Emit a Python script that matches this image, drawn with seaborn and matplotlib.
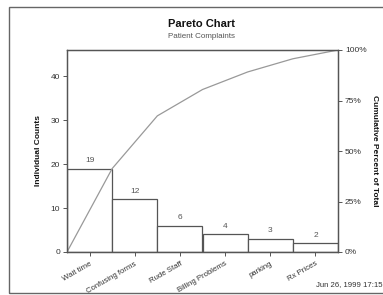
import matplotlib
matplotlib.use("Agg")
import matplotlib.pyplot as plt
import matplotlib.patches as mpatches
import numpy as np
import pandas as pd
import seaborn as sns

# === Data ===
categories = ["Wait time", "Confusing forms", "Rude Staff", "Billing Problems", "parking", "Rx Prices"]
counts = [19, 12, 6, 4, 3, 2]
pct_ticks = [0, 25, 50, 75, 100]
pct_labels = ["0%", "25%", "50%", "75%", "100%"]

# === Style ===
sns.set_theme(style="white")
plt.rcParams["font.family"] = ["Liberation Sans", "DejaVu Sans"]
EDGE = "#555555"
LINE = "#999999"
TXT = "#333333"

df = pd.DataFrame({"category": categories, "count": counts})
total = sum(counts)
cum = np.concatenate([[0], np.cumsum(counts)])
cum_df = pd.DataFrame({"edge": np.arange(len(cum)) - 0.5, "cum": cum})

fig = plt.figure(figsize=(3.83, 2.95), dpi=100)
ax = fig.add_axes([67 / 383, 1 - 252 / 295, (338 - 67) / 383, (252 - 50) / 295])

sns.barplot(data=df, x="category", y="count", width=1.0, color="white",
            edgecolor=EDGE, linewidth=0.9, ax=ax)
for i, v in enumerate(counts):
    ax.text(i, v + 1.0, str(v), ha="center", va="bottom", fontsize=6.0, color="#555555")

sns.lineplot(data=cum_df, x="edge", y="cum", color=LINE, linewidth=0.9, ax=ax)

ax.set_xlim(-0.5, len(categories) - 0.5)
ax.set_ylim(0, total)
ax.set_yticks([0, 10, 20, 30, 40])
ax.set_xlabel("")
ax.set_ylabel("Individual Counts", fontsize=6.0, fontweight="bold", color="#111111", labelpad=6)
ax.set_xticks(range(len(categories)))
ax.set_xticklabels(categories, rotation=30, ha="right", rotation_mode="anchor",
                   fontsize=5.6, color=TXT)
ax.tick_params(axis="both", which="both", direction="out", length=3, width=0.7,
               colors=EDGE, labelsize=6.0, labelcolor=TXT, pad=2, bottom=True, left=True)
ax.tick_params(axis="x", labelsize=5.6, pad=3)
for s in ax.spines.values():
    s.set_color(EDGE)
    s.set_linewidth(0.9)

ax2 = ax.twinx()
ax2.set_ylim(0, 100)
ax2.set_yticks(pct_ticks)
ax2.set_yticklabels(pct_labels)
ax2.tick_params(axis="y", direction="out", length=3, width=0.7, colors=EDGE,
                labelsize=6.0, labelcolor=TXT, pad=2, right=True)
ax2.set_ylabel("Cumulative Percent of Total", fontsize=6.0, fontweight="bold",
               color="#111111", rotation=-90, labelpad=8)
for s in ax2.spines.values():
    s.set_color(EDGE)
    s.set_linewidth(0.9)

# titles and footer
fig.text(202 / 383, 1 - 24 / 295, "Pareto Chart", ha="center", va="center",
         fontsize=8.0, fontweight="bold", color="#111111")
fig.text(202 / 383, 1 - 37 / 295, "Patient Complaints", ha="center", va="center",
         fontsize=5.8, color="#555555")
fig.text(382 / 383, 1 - 285 / 295, "Jun 26, 1999 17:15", ha="right", va="center",
         fontsize=5.6, color=TXT)

# outer frame
frame = mpatches.Rectangle((9 / 383, 1 - 293 / 295), 1.2, (293 - 7) / 295,
                           transform=fig.transFigure, fill=False,
                           edgecolor="#666666", linewidth=1.0, clip_on=False)
fig.add_artist(frame)

fig.savefig("out.png", dpi=100)
